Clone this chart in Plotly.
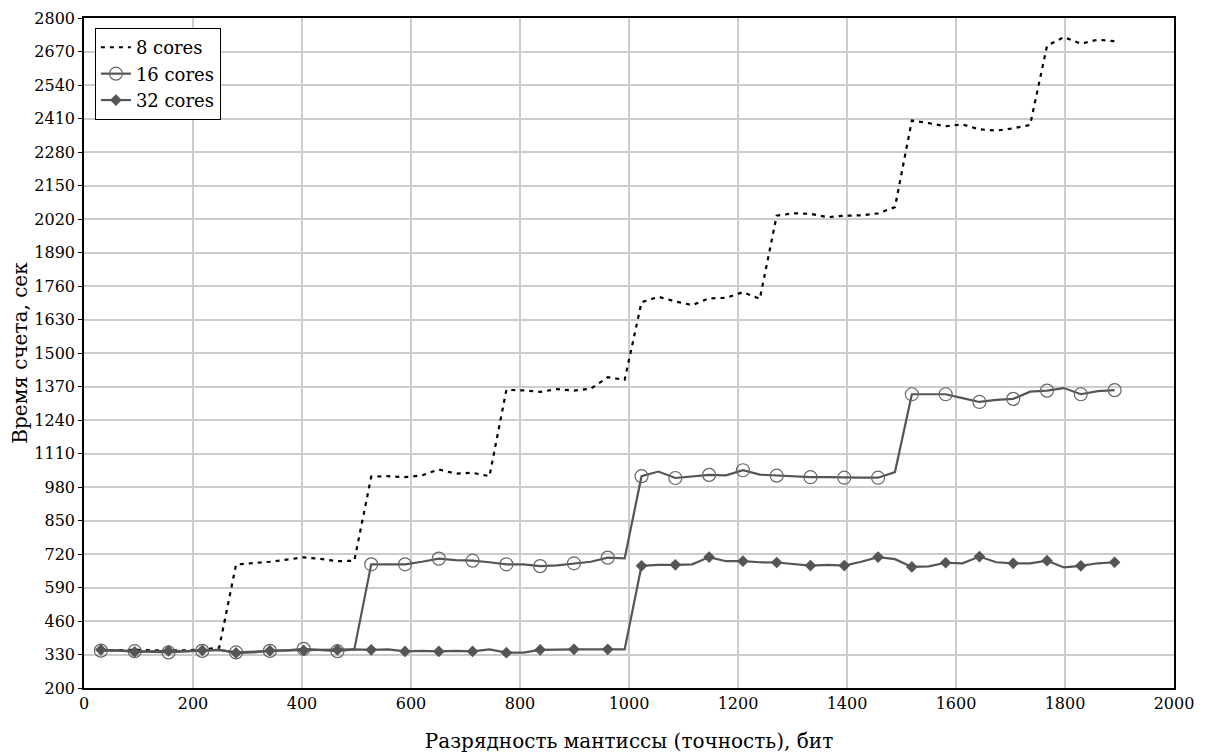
import plotly.graph_objects as go

# Mantissa bit-length (x), 61 samples with step 31
bits = [31 * i for i in range(1, 62)]

cores8 = [345, 346, 348, 346, 345, 346, 350, 356,
          679, 684, 690, 698, 707, 701, 692, 694,
          1020, 1022, 1018, 1025, 1048, 1032, 1035, 1022,
          1357, 1355, 1349, 1360, 1354, 1362, 1406, 1396,
          1697, 1718, 1700, 1686, 1712, 1714, 1736, 1710,
          2033, 2042, 2040, 2027, 2033, 2034, 2042, 2066,
          2402, 2392, 2380, 2387, 2368, 2363, 2372, 2385,
          2692, 2726, 2700, 2716, 2710]

cores16 = [345, 346, 343, 340, 338, 342, 344, 348,
           338, 340, 344, 346, 352, 347, 343, 350,
           680, 680, 680, 690, 702, 696, 694, 688,
           680, 680, 673, 676, 684, 690, 706, 703,
           1022, 1040, 1015, 1022, 1027, 1025, 1045, 1028,
           1024, 1022, 1018, 1018, 1016, 1016, 1016, 1038,
           1340, 1340, 1340, 1325, 1310, 1318, 1322, 1350,
           1354, 1364, 1340, 1352, 1356]

cores32 = [348, 346, 340, 342, 344, 343, 346, 348,
           336, 338, 345, 346, 346, 347, 348, 350,
           348, 350, 342, 344, 342, 344, 342, 350,
           337, 337, 348, 350, 350, 350, 350, 350,
           674, 678, 678, 680, 708, 692, 692, 688,
           687, 680, 675, 678, 675, 690, 708, 700,
           670, 672, 686, 684, 710, 688, 684, 684,
           694, 668, 674, 684, 688]

names = ["8 cores", "16 cores", "32 cores"]
x_ticks = list(range(0, 2001, 200))
y_ticks = list(range(200, 2801, 130))

GRAY = "#555555"
FONT = '"DejaVu Serif", "Liberation Serif", serif'

fig = go.Figure()

fig.add_trace(go.Scatter(x=bits, y=cores8, mode="lines", name=names[0],
                         line=dict(color="black", width=2.2, dash="4px,5px"),
                         showlegend=False))
fig.add_trace(go.Scatter(x=bits, y=cores16, mode="lines", name=names[1],
                         line=dict(color=GRAY, width=2.2), showlegend=False))
fig.add_trace(go.Scatter(x=bits[::2], y=cores16[::2], mode="markers", name=names[1],
                         marker=dict(symbol="circle-open", size=13, color="#666666",
                                     line=dict(width=1.2)),
                         showlegend=False))
fig.add_trace(go.Scatter(x=bits, y=cores32, mode="lines", name=names[2],
                         line=dict(color=GRAY, width=2.2), showlegend=False))
fig.add_trace(go.Scatter(x=bits[::2], y=cores32[::2], mode="markers", name=names[2],
                         marker=dict(symbol="diamond", size=9, color=GRAY),
                         showlegend=False))

fig.add_trace(go.Scatter(x=[None], y=[None], mode="lines", name=names[0],
                         line=dict(color="black", width=2.2, dash="4px,5px")))
fig.add_trace(go.Scatter(x=[None], y=[None], mode="lines+markers", name=names[1],
                         line=dict(color=GRAY, width=2.2),
                         marker=dict(symbol="circle-open", size=13, color="#666666",
                                     line=dict(width=1.2))))
fig.add_trace(go.Scatter(x=[None], y=[None], mode="lines+markers", name=names[2],
                         line=dict(color=GRAY, width=2.2),
                         marker=dict(symbol="diamond", size=9, color=GRAY)))

fig.update_layout(
    width=1199, height=746,
    margin=dict(l=76, r=33, t=10, b=66),
    paper_bgcolor="white", plot_bgcolor="white",
    font=dict(family=FONT, color="black", size=16),
    legend=dict(x=0.01, y=0.985, xanchor="left", yanchor="top",
                bgcolor="white", bordercolor="black", borderwidth=1,
                font=dict(family=FONT, size=18), tracegroupgap=0,
                itemwidth=30),
    xaxis=dict(range=[0, 2000], tickvals=x_ticks, showgrid=True,
               gridcolor="#cccccc", gridwidth=1.5, zeroline=False,
               showline=True, linecolor="black", linewidth=1.5, mirror=True,
               ticks="", automargin=False, tickfont=dict(family=FONT, size=16),
               title=dict(text="Разрядность мантиссы (точность), бит",
                          font=dict(family=FONT, size=20), standoff=22)),
    yaxis=dict(range=[200, 2800], tickvals=y_ticks, showgrid=True,
               gridcolor="#cccccc", gridwidth=1.5, zeroline=False,
               showline=True, linecolor="black", linewidth=1.5, mirror=True,
               ticks="outside", ticklen=4, tickcolor="black", automargin=False,
               tickfont=dict(family=FONT, size=16),
               title=dict(text="Время счета, сек",
                          font=dict(family=FONT, size=20), standoff=16)),
)

fig.write_html("out.html")
